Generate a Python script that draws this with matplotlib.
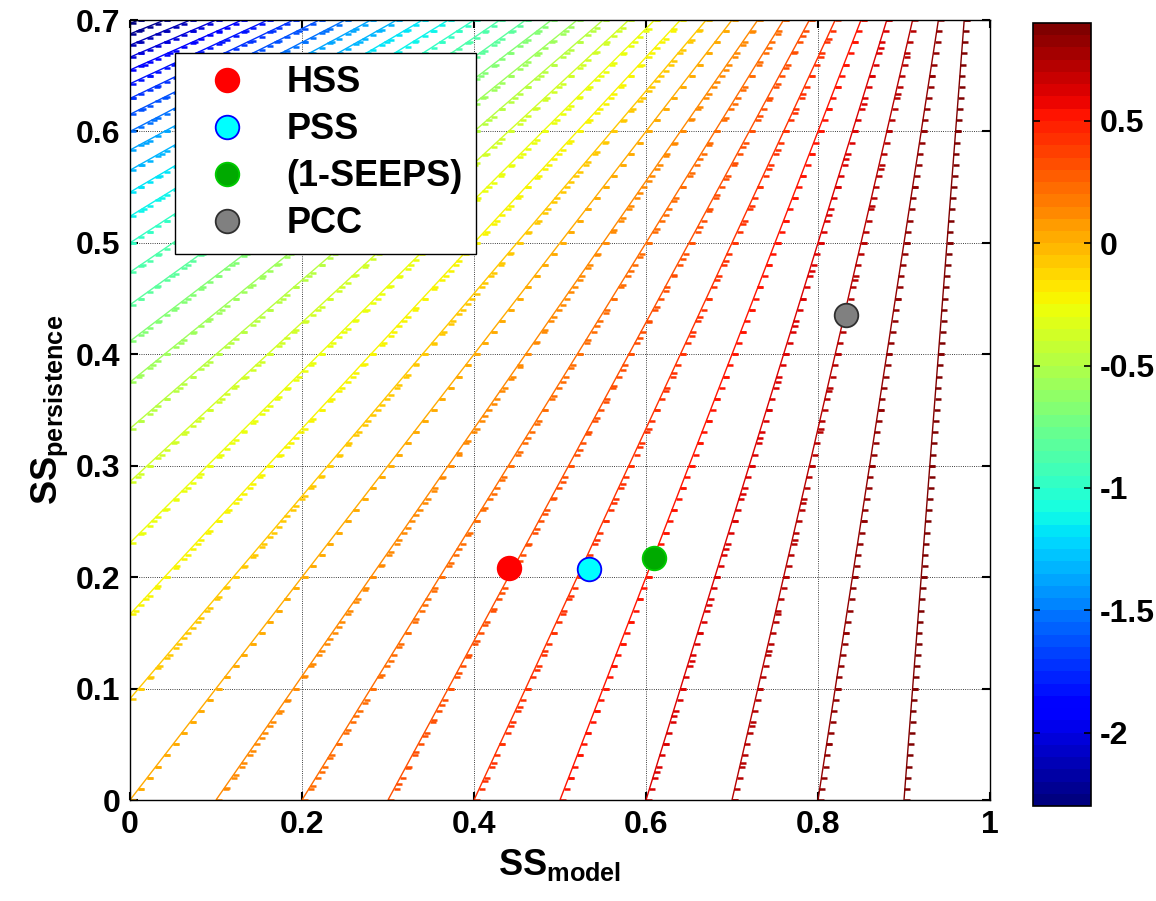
import numpy as np
import matplotlib
matplotlib.use("Agg")
import matplotlib.pyplot as plt
from matplotlib.colors import ListedColormap, Normalize
from matplotlib.cm import ScalarMappable

plt.rcParams['font.family'] = ['Liberation Sans', 'DejaVu Sans']
plt.rcParams['font.weight'] = 'bold'
plt.rcParams['mathtext.fontset'] = 'custom'
plt.rcParams['mathtext.rm'] = 'Liberation Sans:bold'
plt.rcParams['mathtext.bf'] = 'Liberation Sans:bold'
plt.rcParams['mathtext.it'] = 'Liberation Sans:bold'

# skill of model relative to persistence, on a 0.01 grid
ss_model = np.arange(0, 1.001, 0.01)
ss_pers = np.arange(0, 0.701, 0.01)
levels = [-2.3, -2.2, -2.1, -2.0, -1.9, -1.8, -1.7, -1.6, -1.5, -1.4, -1.3, -1.2,
          -1.1, -1.0, -0.9, -0.8, -0.7, -0.6, -0.5, -0.4, -0.3, -0.2, -0.1, 0.0,
          0.1, 0.2, 0.3, 0.4, 0.5, 0.6, 0.7, 0.8, 0.9]
cmin, cmax = -2.3, 0.9

names = ["HSS", "PSS", "(1-SEEPS)", "PCC"]
pt_x = [0.441, 0.534, 0.609, 0.833]
pt_y = [0.208, 0.207, 0.217, 0.435]
face = ["#ff0000", "#00ffff", "#00aa00", "#808080"]
edge = ["#ff0000", "#0000ff", "#00cc00", "#303030"]

X, Y = np.meshgrid(ss_model, ss_pers)
Z = (X - Y) / (1 - Y)

cmap = ListedColormap(plt.get_cmap('jet')(np.linspace(0, 1, 64)))
norm = Normalize(vmin=cmin, vmax=cmax)

fig = plt.figure(figsize=(11.56, 9.01), dpi=100)
ax = fig.add_axes([130/1156, 1 - 800/901, 860/1156, 780/901])
cax = fig.add_axes([1033/1156, 1 - 806/901, 58/1156, 783/901])

cs = ax.contour(X, Y, Z, levels=levels, cmap=cmap, norm=norm, linewidths=1.0)
# little dash markers at the grid crossings, like the original mesh look
for lev, segs in zip(cs.levels, cs.allsegs):
    col = cmap(norm(lev))
    for seg in segs:
        if len(seg):
            ax.plot(seg[:, 0] + 0.003, seg[:, 1], ls='none', marker='_',
                    ms=4.5, mew=1.8, color=col)

for i in range(len(names)):
    ax.plot(pt_x[i], pt_y[i], 'o', ms=17, mfc=face[i], mec=edge[i], mew=1.3,
            label=names[i], zorder=5)

ax.set_xlim(0, 1)
ax.set_ylim(0, 0.7)
ax.set_xticks([0, 0.2, 0.4, 0.6, 0.8, 1])
ax.set_xticklabels(['0', '0.2', '0.4', '0.6', '0.8', '1'])
ax.set_yticks(np.arange(0, 0.71, 0.1))
ax.set_yticklabels(['0', '0.1', '0.2', '0.3', '0.4', '0.5', '0.6', '0.7'])
ax.grid(True, color='black', ls=':', lw=0.6)
ax.tick_params(direction='in', length=6, width=1.5, top=True, right=True,
               labelsize=23, pad=7)
for s in ax.spines.values():
    s.set_linewidth(1.0)
ax.set_xlabel(r'$\mathbf{SS_{model}}$', fontsize=26, labelpad=5)
ax.set_ylabel(r'$\mathbf{SS_{persistence}}$', fontsize=26, labelpad=4)

leg = ax.legend(loc='upper left', bbox_to_anchor=(0.052, 0.958), fontsize=26,
                frameon=True, fancybox=False, edgecolor='black', framealpha=1,
                handletextpad=0.55, labelspacing=0.33, borderpad=0.35,
                handlelength=2.2, borderaxespad=0)
leg.get_frame().set_linewidth(1.0)
for t in leg.get_texts():
    t.set_fontweight('bold')

sm = ScalarMappable(norm=norm, cmap=cmap)
cb = fig.colorbar(sm, cax=cax, ticks=[-2, -1.5, -1, -0.5, 0, 0.5])
cb.ax.set_yticklabels(['-2', '-1.5', '-1', '-0.5', '0', '0.5'])
cb.ax.tick_params(direction='in', length=5, width=1.2, labelsize=23, left=True, right=True, pad=6)
cb.outline.set_linewidth(1.2)

fig.savefig("out.png", dpi=100)
